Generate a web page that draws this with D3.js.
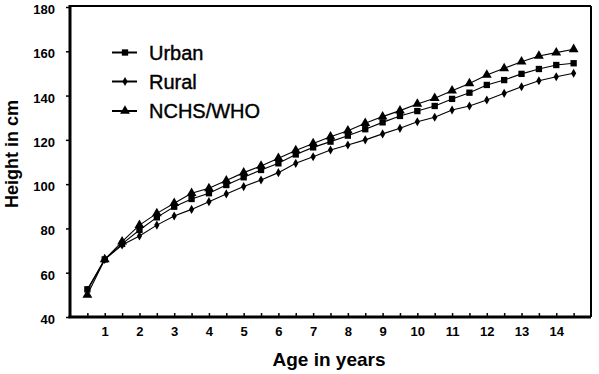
<!DOCTYPE html>
<html>
<head>
<meta charset="utf-8">
<script src="https://cdn.jsdelivr.net/npm/d3@7"></script>
<style>
  body { margin: 0; background: #fff; }
  svg { display: block; font-family: 'Liberation Sans', Arial, sans-serif; }
</style>
</head>
<body>
<svg id="chart" width="599" height="374"></svg>
<script>
// age in years (half-year steps)
const ages = [0.5, 1, 1.5, 2, 2.5, 3, 3.5, 4, 4.5, 5, 5.5, 6, 6.5, 7, 7.5,
              8, 8.5, 9, 9.5, 10, 10.5, 11, 11.5, 12, 12.5, 13, 13.5, 14, 14.5];
// height in cm
const urban = [52.5, 66, 73, 79.3, 85, 89.8, 93.3, 95.9, 99.6, 103.1, 106.4, 109.4, 113.4, 116.6, 119.2,
               121.9, 124.8, 127.9, 130.8, 133, 135.3, 138.5, 141.3, 144.8, 147, 149.8, 152, 153.8, 154.6];
const rural = [52, 66, 72.5, 76.6, 81.5, 85.6, 88.6, 92.1, 95.6, 98.9, 101.9, 105.2, 109.4, 112.4, 115.4,
               117.7, 120, 122.7, 125.2, 128.2, 130.2, 133.5, 135.3, 138, 141, 144, 146.7, 148.5, 150.1];
const nchs = [50, 66, 74, 81.5, 86.8, 91.4, 95.9, 98.1, 101.6, 105.2, 108.2, 111.7, 115.2, 118.4, 121.4,
              124.1, 127.5, 130.5, 133.2, 136.2, 138.8, 142.2, 145.5, 149.3, 152.3, 155.3, 157.9, 159.4, 160.9];
const seriesNames = ['Urban', 'Rural', 'NCHS/WHO'];
const xTickLabels = [1, 2, 3, 4, 5, 6, 7, 8, 9, 10, 11, 12, 13, 14];
const xMinorTicks = [0.5, 1, 1.5, 2, 2.5, 3, 3.5, 4, 4.5, 5, 5.5, 6, 6.5, 7, 7.5,
                     8, 8.5, 9, 9.5, 10, 10.5, 11, 11.5, 12, 12.5, 13, 13.5, 14, 14.5];
const yTicks = [40, 60, 80, 100, 120, 140, 160, 180];

const svg = d3.select('#chart');
const plotLeft = 70, plotRight = 591, plotTop = 7, plotBottom = 317;

const x = d3.scaleLinear().domain([0, 15]).range([plotLeft, plotRight]);
const y = d3.scaleLinear().domain([40, 180]).range([plotBottom, plotTop]);

const symbols = [d3.symbolSquare, d3.symbolDiamond, d3.symbolTriangle];
const symSizes = [40, 24, 42];
const series = [urban, rural, nchs];

// frame: heavy left/bottom, lighter top/right
svg.append('line').attr('x1', plotLeft).attr('x2', plotRight).attr('y1', 6).attr('y2', 6)
  .attr('stroke', '#000').attr('stroke-width', 2);
svg.append('line').attr('x1', plotRight).attr('x2', plotRight).attr('y1', 6).attr('y2', plotBottom)
  .attr('stroke', '#000').attr('stroke-width', 2);

// y axis
const yAxis = d3.axisLeft(y).tickValues(yTicks).tickSize(4).tickPadding(11);
const yG = svg.append('g').attr('transform', `translate(${plotLeft},0)`).call(yAxis);
yG.select('.domain').attr('stroke-width', 3).attr('d', `M0,5V${plotBottom + 1}`);
yG.selectAll('.tick line').attr('stroke-width', 1.5);
yG.selectAll('.tick text')
  .attr('dy', '0.5em')
  .style('font-size', '13px').style('font-weight', 'bold').attr('fill', '#000');

// x axis: half-year ticks pointing up, labels on whole years
const xMinor = d3.axisBottom(x).tickValues(xMinorTicks).tickSize(-4).tickFormat('');
const xG = svg.append('g').attr('transform', `translate(0,${plotBottom})`).call(xMinor);
xG.select('.domain').attr('stroke-width', 3).attr('d', `M${plotLeft - 1.5},0H${plotRight}`);
xG.selectAll('.tick line').attr('stroke-width', 1.5);

const xLab = d3.axisBottom(x).tickValues(xTickLabels).tickSize(0).tickPadding(10);
const xL = svg.append('g').attr('transform', `translate(0,${plotBottom})`).call(xLab);
xL.select('.domain').remove();
xL.selectAll('.tick text')
  .style('font-size', '13px').style('font-weight', 'bold').attr('fill', '#000');

// lines and markers
const line = d3.line().x((d, i) => x(ages[i])).y(d => y(d));
series.forEach((vals, k) => {
  svg.append('path').datum(vals)
    .attr('d', line).attr('fill', 'none').attr('stroke', '#000').attr('stroke-width', 1.1);
  svg.append('g').selectAll('path').data(vals).join('path')
    .attr('transform', (d, i) => `translate(${x(ages[i])},${y(d)})`)
    .attr('d', d3.symbol().type(symbols[k]).size(symSizes[k]))
    .attr('fill', '#000');
});

// legend
const legY = [52.5, 81.5, 111];
seriesNames.forEach((name, k) => {
  const g = svg.append('g').attr('transform', `translate(112,${legY[k]})`);
  g.append('line').attr('x1', 0).attr('x2', 25).attr('stroke', '#000').attr('stroke-width', 2);
  g.append('path').attr('transform', 'translate(13,0)')
    .attr('d', d3.symbol().type(symbols[k]).size(symSizes[k])).attr('fill', '#000');
  g.append('text').attr('x', 37).attr('dy', '0.36em')
    .style('font-size', '20px').attr('fill', '#000')
    .attr('stroke', '#000').attr('stroke-width', 0.4)
    .text(name);
});

// axis titles
svg.append('text')
  .attr('x', 329).attr('y', 366)
  .attr('text-anchor', 'middle')
  .style('font-size', '19px').style('font-weight', 'bold')
  .text('Age in years');

svg.append('text')
  .attr('transform', 'translate(18,154) rotate(-90)')
  .attr('text-anchor', 'middle')
  .style('font-size', '18px').style('font-weight', 'bold')
  .text('Height in cm');
</script>
</body>
</html>
